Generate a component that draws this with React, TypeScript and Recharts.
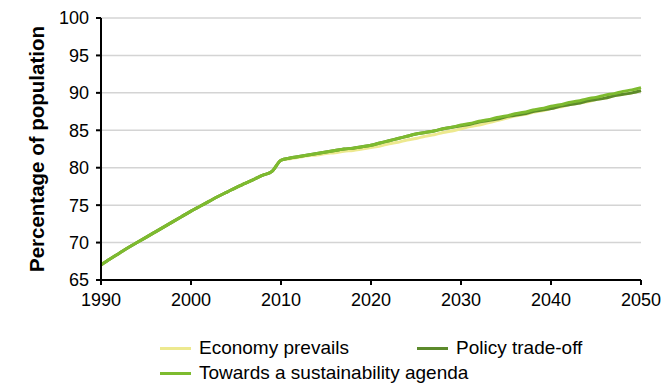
import React from "react";
import {
  LineChart,
  Line,
  XAxis,
  YAxis,
  CartesianGrid,
} from "recharts";

const years = Array.from({ length: 61 }, (_, i) => 1990 + i);

// 1990-2009 shared history
const history = [
  67.0, 67.8, 68.55, 69.3, 70.0, 70.7, 71.4, 72.1, 72.8, 73.5,
  74.2, 74.85, 75.5, 76.15, 76.75, 77.35, 77.9, 78.45, 79.0, 79.5,
];

// 2010-2050
const economyPrevails = [
  81.0, 81.2, 81.4, 81.6, 81.7, 81.9, 82.0, 82.2, 82.3, 82.5,
  82.7, 82.9, 83.2, 83.4, 83.7, 83.9, 84.2, 84.4, 84.7, 84.9,
  85.2, 85.5, 85.7, 86.0, 86.3, 86.6, 86.9, 87.1, 87.4, 87.6,
  87.9, 88.1, 88.4, 88.6, 88.8, 89.1, 89.3, 89.6, 89.8, 90.0, 90.3,
];

const policyTradeOff = [
  81.0, 81.3, 81.5, 81.7, 81.9, 82.1, 82.3, 82.5, 82.6, 82.8,
  83.0, 83.3, 83.6, 83.9, 84.2, 84.5, 84.7, 84.9, 85.2, 85.4,
  85.6, 85.8, 86.1, 86.3, 86.5, 86.8, 87.0, 87.2, 87.5, 87.7,
  87.9, 88.2, 88.4, 88.6, 88.9, 89.1, 89.3, 89.6, 89.8, 90.0, 90.3,
];

const sustainabilityAgenda = [
  81.0, 81.3, 81.5, 81.7, 81.9, 82.1, 82.3, 82.5, 82.6, 82.8,
  83.0, 83.3, 83.6, 83.9, 84.2, 84.5, 84.7, 84.9, 85.2, 85.4,
  85.7, 85.9, 86.2, 86.4, 86.7, 86.9, 87.2, 87.4, 87.7, 87.9,
  88.2, 88.4, 88.7, 88.9, 89.2, 89.4, 89.7, 89.9, 90.2, 90.4, 90.7,
];

const xTicks = [1990, 2000, 2010, 2020, 2030, 2040, 2050];
const yTicks = [65, 70, 75, 80, 85, 90, 95, 100];

const series = [
  { key: "economy", name: "Economy prevails", color: "#EDE98F", values: economyPrevails },
  { key: "policy", name: "Policy trade-off", color: "#5C8A2B", values: policyTradeOff },
  { key: "towards", name: "Towards a sustainability agenda", color: "#7DBB2F", values: sustainabilityAgenda },
];

const data = years.map((year, i) => {
  const row: any = { year };
  series.forEach((s) => {
    row[s.key] = i < history.length ? history[i] : s.values[i - history.length];
  });
  return row;
});

const FONT = "'Liberation Sans', Arial, sans-serif";

const YLabel = ({ viewBox }: any) => {
  const x = viewBox.x + 36;
  const y = viewBox.y + viewBox.height / 2;
  return (
    <text
      x={x}
      y={y}
      transform={`rotate(-90, ${x}, ${y})`}
      textAnchor="middle"
      dominantBaseline="central"
      fontFamily={FONT}
      fontWeight="bold"
      fontSize={20.5}
      fill="#000"
    >
      Percentage of population
    </text>
  );
};

const LegendItem = ({ color, name, left, top }: any) => (
  <div style={{ position: "absolute", left, top, display: "flex", alignItems: "center", height: 20 }}>
    <div style={{ width: 31, height: 3, background: color, marginRight: 8 }} />
    <span style={{ fontFamily: FONT, fontSize: 19, color: "#000", whiteSpace: "nowrap" }}>{name}</span>
  </div>
);

export default function App() {
  return (
    <div style={{ position: "absolute", left: 0, top: 0, width: 670, height: 384, background: "#fff" }}>
      <LineChart
        width={670}
        height={384}
        data={data}
        margin={{ top: 18, right: 29, bottom: 74, left: 0 }}
      >
        <CartesianGrid horizontal vertical={false} stroke="#d4d4d4" strokeWidth={1.5} />
        <XAxis
          dataKey="year"
          type="number"
          domain={[1990, 2050]}
          ticks={xTicks}
          height={30}
          axisLine={{ stroke: "#000", strokeWidth: 2 }}
          tickLine={{ stroke: "#000", strokeWidth: 2 }}
          tickSize={5}
          tickMargin={8}
          tick={{ fill: "#000", fontSize: 18, fontFamily: FONT }}
        />
        <YAxis
          type="number"
          domain={[65, 100]}
          ticks={yTicks}
          width={101}
          axisLine={{ stroke: "#000", strokeWidth: 2 }}
          tickLine={{ stroke: "#000", strokeWidth: 2 }}
          tickSize={5}
          tickMargin={7}
          tick={{ fill: "#000", fontSize: 18, fontFamily: FONT }}
          label={<YLabel />}
        />
        {series.map((s) => (
          <Line
            key={s.key}
            dataKey={s.key}
            name={s.name}
            type="monotone"
            stroke={s.color}
            strokeWidth={3}
            dot={false}
            isAnimationActive={false}
          />
        ))}
      </LineChart>
      <LegendItem color={series[0].color} name={series[0].name} left={160} top={338} />
      <LegendItem color={series[1].color} name={series[1].name} left={417} top={338} />
      <LegendItem color={series[2].color} name={series[2].name} left={160} top={363} />
    </div>
  );
}
